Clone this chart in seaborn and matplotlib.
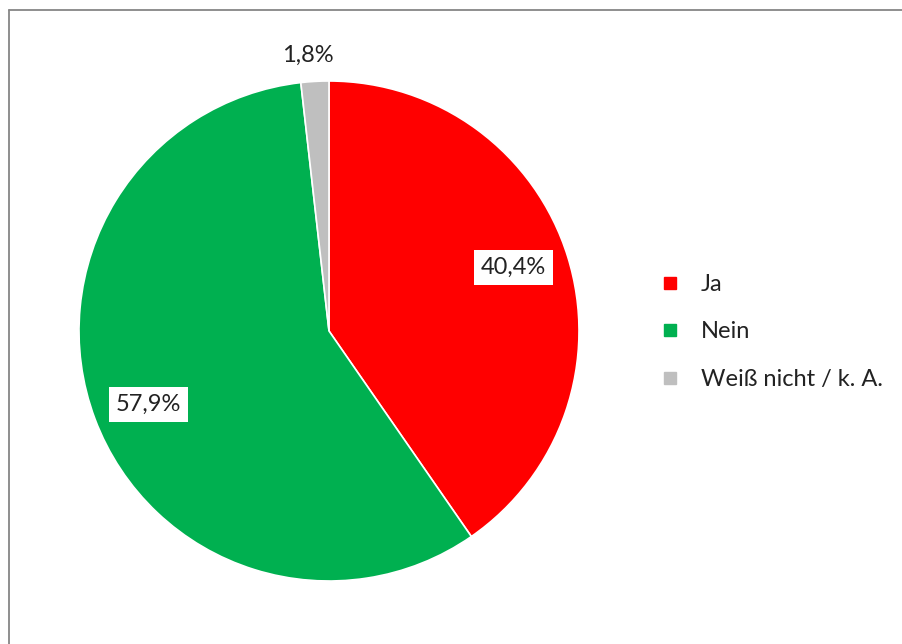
import numpy as np
import matplotlib
matplotlib.use("Agg")
import matplotlib.pyplot as plt
import seaborn as sns
from matplotlib.lines import Line2D

categories = ["Ja", "Nein", "Weiß nicht / k. A."]
shares = [40.4, 57.9, 1.8]
colors = ["#FF0000", "#00B050", "#BFBFBF"]

sns.set_theme(style="white")
plt.rcParams["font.family"] = ["Lato", "DejaVu Sans"]

W, H = 903, 644
fig = plt.figure(figsize=(W / 100, H / 100), dpi=100)
fig.patch.set_facecolor("white")

# pie axes: centre (329, 331) px, radius 250 px
ax = fig.add_axes([79 / W, (H - 581) / H, 500 / W, 500 / H])
wedges, _ = ax.pie(
    shares,
    colors=colors,
    startangle=90,
    counterclock=False,
    radius=1.0,
    wedgeprops=dict(edgecolor="white", linewidth=1.2),
)
ax.set_xlim(-1, 1)
ax.set_ylim(-1, 1)
ax.set_aspect("equal")
ax.axis("off")

# percentage labels
for i, (w, v) in enumerate(zip(wedges, shares)):
    mid = np.deg2rad((w.theta1 + w.theta2) / 2 + 1.6)
    txt = f"{v:.1f}%".replace(".", ",")
    if v < 5:
        r = 1.105
        ax.text(r * np.cos(mid) + 0.01, r * np.sin(mid), txt, ha="center", va="center",
                fontsize=17, color="#222222", clip_on=False)
    else:
        r = 0.78
        ax.text(r * np.cos(mid), r * np.sin(mid), txt, ha="center", va="center",
                fontsize=17, color="#222222",
                bbox=dict(boxstyle="square,pad=0.3", facecolor="white", edgecolor="none"))

# legend
handles = [Line2D([], [], marker="s", linestyle="none", markersize=9,
                  markerfacecolor=c, markeredgecolor=c) for c in colors]
fig.legend(handles, categories, loc="center left",
           bbox_to_anchor=(663 / W, 1 - 332 / H), frameon=False,
           fontsize=17, handlelength=0.6, handletextpad=1.0, labelspacing=1.13,
           borderpad=0, borderaxespad=0, labelcolor="#222222")

# outer frame (left and top edges)
fig.add_artist(Line2D([8.5 / W, 8.5 / W], [0, 1 - 10 / H], transform=fig.transFigure,
                      color="#868686", linewidth=1.3))
fig.add_artist(Line2D([8.5 / W, 1], [1 - 10 / H, 1 - 10 / H], transform=fig.transFigure,
                      color="#868686", linewidth=1.3))

fig.savefig("out.png", dpi=100, facecolor="white")
